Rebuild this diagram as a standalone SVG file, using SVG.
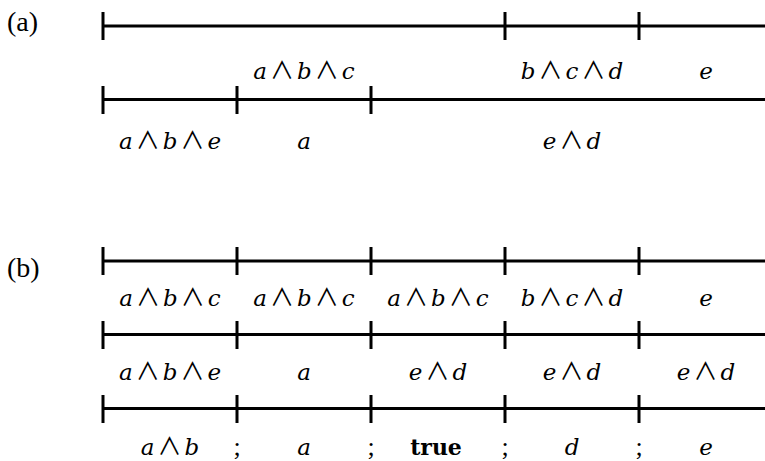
<svg xmlns="http://www.w3.org/2000/svg" width="765" height="461" viewBox="0 0 765 461">
<style>
.ln{stroke:#000;stroke-width:2.8;fill:none}
.tk{stroke:#000;stroke-width:3;fill:none}
.lbl{font-family:"Liberation Serif",serif;font-size:28px;fill:#000}
.m{font-family:"DejaVu Serif",serif;font-style:italic;font-size:23px;fill:#000;text-anchor:middle}
.op{font-family:"Noto Sans CJK JP","DejaVu Sans",sans-serif;font-style:normal;font-size:24px}
.up{font-family:"Liberation Serif",serif;font-style:normal;font-size:26px;fill:#000;text-anchor:middle}
.bf{font-family:"DejaVu Serif",serif;font-weight:bold;font-size:22px;fill:#000;text-anchor:middle}
</style>
<rect width="765" height="461" fill="#fff"/>
<g id="label-a"><text class="lbl" x="7" y="31">(a)</text></g>
<g id="label-b"><text class="lbl" x="7" y="277">(b)</text></g>

<g id="connectors">
  <path class="ln" d="M103 26H765"/>
  <path class="tk" d="M103 12V40M505 12V40M639 12V40"/>
  <path class="ln" d="M103 99.5H765"/>
  <path class="tk" d="M103 86V114M237 86V114M371 86V114"/>
  <path class="ln" d="M103 261H765"/>
  <path class="tk" d="M103 247V275M237 247V275M371 247V275M505 247V275M639 247V275"/>
  <path class="ln" d="M103 334.5H765"/>
  <path class="tk" d="M103 321V349M237 321V349M371 321V349M505 321V349M639 321V349"/>
  <path class="ln" d="M103 408.5H765"/>
  <path class="tk" d="M103 395V423M237 395V423M371 395V423M505 395V423M639 395V423"/>
</g>

<g id="a-row1-labels">
  <text class="m" x="304" y="79">a<tspan class="op" dx="3">∧</tspan><tspan dx="3">b</tspan><tspan class="op" dx="3">∧</tspan><tspan dx="3">c</tspan></text>
  <text class="m" x="572" y="79">b<tspan class="op" dx="3">∧</tspan><tspan dx="3">c</tspan><tspan class="op" dx="3">∧</tspan><tspan dx="3">d</tspan></text>
  <text class="m" x="706" y="79">e</text>
</g>
<g id="a-row2-labels">
  <text class="m" x="170" y="149">a<tspan class="op" dx="3">∧</tspan><tspan dx="3">b</tspan><tspan class="op" dx="3">∧</tspan><tspan dx="3">e</tspan></text>
  <text class="m" x="304" y="149">a</text>
  <text class="m" x="572" y="149">e<tspan class="op" dx="3">∧</tspan><tspan dx="3">d</tspan></text>
</g>

<g id="b-row1-labels">
  <text class="m" x="170" y="306">a<tspan class="op" dx="3">∧</tspan><tspan dx="3">b</tspan><tspan class="op" dx="3">∧</tspan><tspan dx="3">c</tspan></text>
  <text class="m" x="304" y="306">a<tspan class="op" dx="3">∧</tspan><tspan dx="3">b</tspan><tspan class="op" dx="3">∧</tspan><tspan dx="3">c</tspan></text>
  <text class="m" x="438" y="306">a<tspan class="op" dx="3">∧</tspan><tspan dx="3">b</tspan><tspan class="op" dx="3">∧</tspan><tspan dx="3">c</tspan></text>
  <text class="m" x="572" y="306">b<tspan class="op" dx="3">∧</tspan><tspan dx="3">c</tspan><tspan class="op" dx="3">∧</tspan><tspan dx="3">d</tspan></text>
  <text class="m" x="706" y="306">e</text>
</g>
<g id="b-row2-labels">
  <text class="m" x="170" y="380">a<tspan class="op" dx="3">∧</tspan><tspan dx="3">b</tspan><tspan class="op" dx="3">∧</tspan><tspan dx="3">e</tspan></text>
  <text class="m" x="304" y="380">a</text>
  <text class="m" x="438" y="380">e<tspan class="op" dx="3">∧</tspan><tspan dx="3">d</tspan></text>
  <text class="m" x="572" y="380">e<tspan class="op" dx="3">∧</tspan><tspan dx="3">d</tspan></text>
  <text class="m" x="706" y="380">e<tspan class="op" dx="3">∧</tspan><tspan dx="3">d</tspan></text>
</g>
<g id="b-row3-labels">
  <text class="m" x="170" y="455">a<tspan class="op" dx="3">∧</tspan><tspan dx="3">b</tspan></text>
  <text class="up" x="237" y="455">;</text>
  <text class="m" x="304" y="455">a</text>
  <text class="up" x="371" y="455">;</text>
  <text class="bf" x="436" y="455">true</text>
  <text class="up" x="505" y="455">;</text>
  <text class="m" x="572" y="455">d</text>
  <text class="up" x="639" y="455">;</text>
  <text class="m" x="706" y="455">e</text>
</g>
</svg>
